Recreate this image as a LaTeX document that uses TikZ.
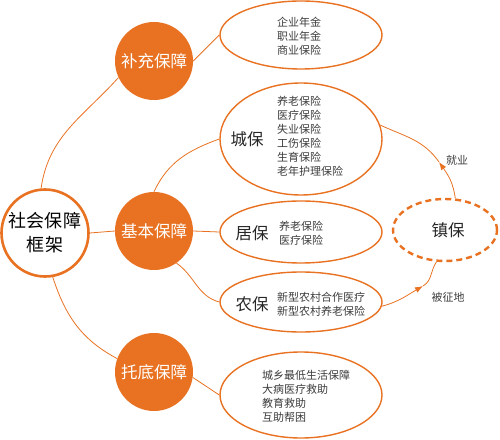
\documentclass[tikz,border=0pt]{standalone}
\usepackage{fontspec}
\setmainfont{Noto Sans CJK SC}
\usetikzlibrary{arrows.meta,shapes.geometric}
\definecolor{org}{RGB}{232,114,34}
\definecolor{txt}{RGB}{60,60,60}
\tikzset{
  big/.style={circle,fill=org,minimum size=78pt,inner sep=0pt,text=white,font=\fontsize{16.5}{18}\selectfont},
  ell/.style={ellipse,draw=org,line width=1.4pt,inner sep=0pt},
  conn/.style={draw=org,line width=0.8pt},
  lst/.style={align=left,text=txt,font=\fontsize{11}{14}\selectfont,inner sep=0pt},
  lbl/.style={text=black!85,font=\fontsize{16.5}{18}\selectfont,inner sep=0pt},
  arrowtip/.style={arrows={-Latex[length=8pt,width=6pt]}}
}
\begin{document}
\begin{tikzpicture}[x=1pt,y=1pt]
\useasboundingbox (0,0) rectangle (500,439);
% main
\node[circle,draw=org,line width=2.6pt,fill=white,minimum size=87pt,inner sep=0pt,align=center,font=\fontsize{18}{24}\selectfont] (main) at (45,206) {社会保障\\框架};
\node[big] (bu) at (154,378) {补充保障};
\node[big] (jb) at (154,208) {基本保障};
\node[big] (td) at (154,67) {托底保障};
% ellipses
\node[ell,minimum width=162pt,minimum height=68pt] (e1) at (301,404) {};
\node[ell,minimum width=162pt,minimum height=112pt] (cb) at (301,300) {};
\node[ell,minimum width=162pt,minimum height=62pt] (jub) at (301,207) {};
\node[ell,minimum width=162pt,minimum height=60pt] (nb) at (301,137) {};
\node[ell,minimum width=162pt,minimum height=86pt] (e5) at (301,44) {};
\node[ellipse,draw=org,line width=2.4pt,dash pattern=on 6pt off 4pt,minimum width=104pt,minimum height=62pt,inner sep=0pt] (zb) at (445,209) {};
% texts
\node[lst,align=center] (t1) at (299,403) {企业年金\\职业年金\\商业保险};
\node[lbl] (cbl) at (247,300) {城保};
\node[lst,anchor=north west] (t2) at (277,343) {养老保险\\医疗保险\\失业保险\\工伤保险\\生育保险\\老年护理保险};
\node[lbl] (jubl) at (252,206) {居保};
\node[lst,anchor=west] (t3) at (279,206) {养老保险\\医疗保险};
\node[lbl] (nbl) at (252,135) {农保};
\node[lst,anchor=west] (t4) at (277,135) {新型农村合作医疗\\新型农村养老保险};
\node[lst,anchor=west] (t5) at (262,43) {城乡最低生活保障\\大病医疗救助\\教育救助\\互助帮困};
\node[lbl] (zbl) at (448,209) {镇保};
\node[lst] (jy) at (457,279) {就业};
\node[lst] (bzd) at (448,142) {被征地};
\coordinate (m1) at (439,277);
\coordinate (m2) at (423,153);
% connectors
\draw[conn] (main.95) to[out=82,in=228] (bu.205);
\draw[conn] (main.east) -- (jb.west);
\draw[conn] (main.-80) to[out=-72,in=152] (td.160);
\draw[conn] (bu.east) -- (e1.west);
\draw[conn] (jb.north) to[out=65,in=200] (cb.west);
\draw[conn] (jb.east) -- (jub.west);
\draw[conn] (jb.-55) to[out=-35,in=165] (nb.west);
\draw[conn] (td.-8) -- (e5.west);
\draw[conn] (m1) to[out=125,in=-25] (cb.10);
\draw[conn] (m2) to[out=30,in=235] (zb.-105);
\draw[conn,arrowtip] (zb.72) to[out=97,in=-55] (m1);
\draw[conn,arrowtip] (nb.-3) to[out=15,in=210] (m2);
\end{tikzpicture}
\end{document}
